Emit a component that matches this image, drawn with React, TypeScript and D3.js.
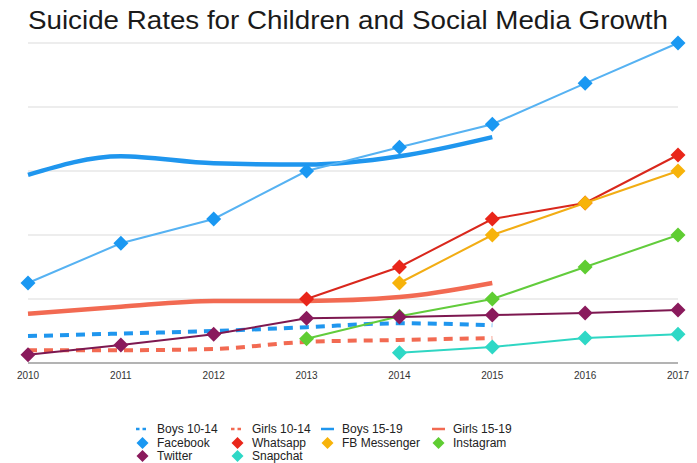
import React from "react";
import * as d3 from "d3";

const years = [2010, 2011, 2012, 2013, 2014, 2015, 2016, 2017];

// age-group suicide rate trends (2010–2015)
const boys1014 = [0.42, 0.46, 0.5, 0.56, 0.62, 0.59];
const girls1014 = [0.2, 0.2, 0.22, 0.33, 0.36, 0.39];
const boys1519 = [2.94, 3.23, 3.12, 3.1, 3.23, 3.53];
const girls1519 = [0.77, 0.88, 0.97, 0.97, 1.03, 1.25];

// social media growth, starting year given separately
const facebook = [1.25, 1.87, 2.25, 3.0, 3.37, 3.73, 4.37, 5.0];
const whatsapp = [1.0, 1.5, 2.25, 2.5, 3.25];
const fbMessenger = [1.25, 2.0, 2.5, 3.0];
const instagram = [0.38, 0.73, 1.0, 1.5, 2.0];
const twitter = [0.13, 0.28, 0.45, 0.7, 0.72, 0.75, 0.78, 0.83];
const snapchat = [0.16, 0.25, 0.39, 0.45];

const gridValues = [1, 2, 3, 4, 5];

const W = 697;
const H = 463;

const x = d3.scaleLinear().domain([2010, 2017]).range([28, 678]);
const y = d3.scaleLinear().domain([0, 5]).range([363, 43]);

type Pt = [number, number];
const pts = (vals: number[], start: number): Pt[] => vals.map((v, i) => [start + i, v]);

const smooth = d3
  .line<Pt>()
  .x((d) => x(d[0]))
  .y((d) => y(d[1]))
  .curve(d3.curveMonotoneX);
const straight = d3
  .line<Pt>()
  .x((d) => x(d[0]))
  .y((d) => y(d[1]));

const ageSeries = [
  { name: "Boys 10-14", data: pts(boys1014, 2010), color: "#1f96ee", width: 4, dash: "9,7" },
  { name: "Girls 10-14", data: pts(girls1014, 2010), color: "#f26a52", width: 4, dash: "9,7" },
  { name: "Boys 15-19", data: pts(boys1519, 2010), color: "#1f96ee", width: 4.5, dash: null },
  { name: "Girls 15-19", data: pts(girls1519, 2010), color: "#f26a52", width: 4.5, dash: null },
];

const socialSeries = [
  { name: "Facebook", data: pts(facebook, 2010), line: "#56b2f2", marker: "#1a98f2" },
  { name: "Whatsapp", data: pts(whatsapp, 2013), line: "#d9271c", marker: "#e9261a" },
  { name: "FB Messenger", data: pts(fbMessenger, 2014), line: "#f2ad14", marker: "#f7b30a" },
  { name: "Instagram", data: pts(instagram, 2013), line: "#62cc3c", marker: "#5fcd32" },
  { name: "Twitter", data: pts(twitter, 2010), line: "#7d1850", marker: "#8a1a5c" },
  { name: "Snapchat", data: pts(snapchat, 2014), line: "#2fd6c3", marker: "#2ed8c6" },
];

const diamond = (cx: number, cy: number, r: number) =>
  `M${cx},${cy - r}L${cx + r},${cy}L${cx},${cy + r}L${cx - r},${cy}Z`;

const legendCols = [136, 231, 321, 432];
const legendRows = [429, 443, 456];

export default function App() {
  const font = "'Liberation Sans', Arial, Helvetica, sans-serif";
  const legendItems = [
    ...ageSeries.map((s) => ({ kind: "line" as const, name: s.name, color: s.color, dash: s.dash })),
    ...socialSeries.map((s) => ({ kind: "marker" as const, name: s.name, color: s.marker, dash: null })),
  ];
  return (
    <div style={{ position: "absolute", left: 0, top: 0 }}>
      <svg width={W} height={H} style={{ display: "block", background: "#fff", fontFamily: font }}>
        <text
          x={28}
          y={29}
          fontSize={26}
          fill="#1a1a1a"
          textLength={640}
          lengthAdjust="spacingAndGlyphs"
        >
          Suicide Rates for Children and Social Media Growth
        </text>

        {gridValues.map((v) => (
          <line key={v} x1={x(2010)} x2={x(2017)} y1={y(v)} y2={y(v)} stroke="#dcdcdc" strokeWidth={1.2} />
        ))}
        <line x1={x(2010)} x2={x(2017)} y1={y(0)} y2={y(0)} stroke="#9a9a9a" strokeWidth={1.4} />

        {years.map((yr) => (
          <text key={yr} x={x(yr)} y={y(0) + 16} textAnchor="middle" fontSize={10} fill="#333">
            {yr}
          </text>
        ))}

        {ageSeries.map((s) => (
          <path
            key={s.name}
            d={smooth(s.data) || ""}
            fill="none"
            stroke={s.color}
            strokeWidth={s.width}
            strokeDasharray={s.dash || undefined}
          />
        ))}

        {socialSeries.map((s) => (
          <g key={s.name}>
            <path d={straight(s.data) || ""} fill="none" stroke={s.line} strokeWidth={2} />
            {s.data.map((d) => (
              <path key={d[0]} d={diamond(x(d[0]), y(d[1]), 7.5)} fill={s.marker} />
            ))}
          </g>
        ))}

        {legendItems.map((item, i) => {
          const col = i % 4;
          const row = Math.floor(i / 4);
          const lx = legendCols[col];
          const ly = legendRows[row];
          return (
            <g key={item.name}>
              {item.kind === "line" ? (
                <line
                  x1={lx}
                  x2={lx + 13}
                  y1={ly}
                  y2={ly}
                  stroke={item.color}
                  strokeWidth={2.5}
                  strokeDasharray={item.dash ? "3.5,3" : undefined}
                />
              ) : (
                <path d={diamond(lx + 6.5, ly, 6)} fill={item.color} />
              )}
              <text x={lx + 21} y={ly + 4} fontSize={12} fill="#222">
                {item.name}
              </text>
            </g>
          );
        })}
      </svg>
    </div>
  );
}
